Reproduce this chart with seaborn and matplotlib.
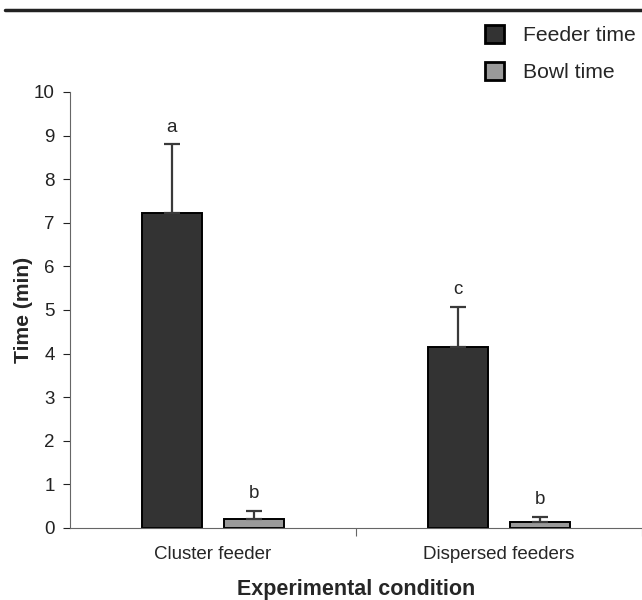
import matplotlib
matplotlib.use("Agg")
import matplotlib.pyplot as plt
from matplotlib.lines import Line2D
import seaborn as sns
import pandas as pd
import numpy as np

conditions = ["Cluster feeder", "Dispersed feeders"]
series = ["Feeder time", "Bowl time"]
feeder_time = [7.22, 4.16]
feeder_err = [1.59, 0.92]
bowl_time = [0.21, 0.14]
bowl_err = [0.19, 0.12]
feeder_letters = ["a", "c"]
bowl_letters = ["b", "b"]
yticks = list(range(0, 11))

df = pd.DataFrame({
    "Condition": conditions * 2,
    "Series": [series[0]] * 2 + [series[1]] * 2,
    "Time": feeder_time + bowl_time,
})

sns.set_style("white")
plt.rcParams["font.family"] = ["Liberation Sans", "DejaVu Sans"]

fig = plt.figure(figsize=(6.42, 6.0), dpi=100)
ax = fig.add_axes([70 / 642, 72 / 600, 572 / 642, 436 / 600])

palette = {series[0]: "#333333", series[1]: "#9a9a9a"}
sns.barplot(data=df, x="Condition", y="Time", hue="Series", palette=palette,
            width=0.574, gap=0.28, edgecolor="black", linewidth=1.4,
            errorbar=None, ax=ax, legend=True, saturation=1)

vals = feeder_time + bowl_time
errs = feeder_err + bowl_err
letters = feeder_letters + bowl_letters
for p, v, e, l in zip(ax.patches[:4], vals, errs, letters):
    xc = p.get_x() + p.get_width() / 2
    ax.errorbar([xc], [v], yerr=[[0], [e]], fmt="none", ecolor="#3a3a3a",
                elinewidth=1.6, capsize=6, capthick=1.6, zorder=1)
    ax.annotate(l, (xc, v + e), xytext=(0, 6), textcoords="offset points",
                ha="center", va="bottom", fontsize=13.5)

ax.set_xlim(-0.5, 1.5)
ax.set_ylim(0, 10)
ax.set_yticks(yticks)
ax.set_yticklabels([str(t) for t in yticks], fontsize=13.5)
ax.set_xticks([0, 1])
ax.set_xticklabels(conditions, fontsize=13.5)
ax.tick_params(axis="x", length=0, pad=13)
ax.tick_params(axis="y", length=5, width=0.8, direction="out", left=True, pad=6,
               colors="#222222")
ax.set_xticks([0.5, 1.5], minor=True)
ax.tick_params(axis="x", which="minor", length=6, width=0.8, direction="out",
               bottom=True, color="#666666")

for s in ["top", "right"]:
    ax.spines[s].set_visible(False)
for s in ["left", "bottom"]:
    ax.spines[s].set_color("#666666")
    ax.spines[s].set_linewidth(0.8)

ax.set_ylabel("Time (min)", fontsize=15.2, fontweight="bold", labelpad=0.5)
ax.set_xlabel("Experimental condition", fontsize=15.5, fontweight="bold", labelpad=11.5)

handles, labs = ax.get_legend_handles_labels()
leg = ax.legend(handles, labs, loc="upper left", bbox_to_anchor=(466 / 642, 1 - 6 / 600),
                bbox_transform=fig.transFigure, frameon=False, fontsize=15.2,
                handlelength=0.9, handleheight=0.9, labelspacing=0.82, handletextpad=0.9)
for h in leg.legend_handles:
    h.set_linewidth(2.0)
    h.set_edgecolor("black")

fig.add_artist(Line2D([5 / 642, 1.0], [1 - 10 / 600, 1 - 10 / 600], color="#222222",
                      linewidth=2.5, transform=fig.transFigure))

fig.savefig("out.png", dpi=100)
